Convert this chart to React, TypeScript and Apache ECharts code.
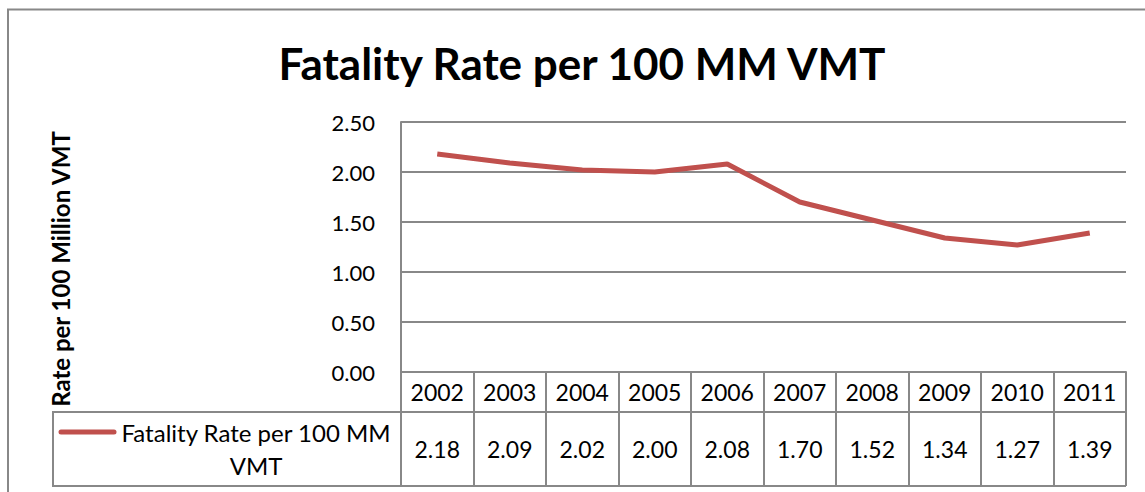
import React, { useEffect, useRef } from "react";
import * as echarts from "echarts";

const chartTitle = "Fatality Rate per 100 MM VMT";
const yAxisTitle = "Rate per 100 Million VMT";
const seriesName = "Fatality Rate per 100 MM VMT";
const years = ["2002", "2003", "2004", "2005", "2006", "2007", "2008", "2009", "2010", "2011"];
const rates = [2.18, 2.09, 2.02, 2.0, 2.08, 1.7, 1.52, 1.34, 1.27, 1.39];
const yMin = 0;
const yMax = 2.5;
const yStep = 0.5;

const FONT = "Lato, 'Liberation Sans', sans-serif";
const GRAY = "#888888";
const RED = "#C0504D";

const G_LEFT = 401;
const G_TOP = 122;
const G_RIGHT = 1126;
const G_BOTTOM = 372;
const ROW1 = 40;
const ROW2 = 74;
const LEG_LEFT = 53;

export default function App() {
  const ref = useRef<HTMLDivElement>(null);
  useEffect(() => {
    if (!ref.current) return;
    const chart = echarts.init(ref.current, null, { renderer: "svg" });
    const row2Top = G_BOTTOM + ROW1;
    const row2Bottom = row2Top + ROW2;
    chart.setOption({
      animation: false,
      backgroundColor: "#ffffff",
      textStyle: { fontFamily: FONT },
      grid: {
        left: G_LEFT,
        top: G_TOP,
        width: G_RIGHT - G_LEFT,
        height: G_BOTTOM - G_TOP,
        containLabel: false,
      },
      xAxis: [
        {
          type: "category",
          data: years,
          boundaryGap: true,
          position: "bottom",
          axisLine: { show: true, lineStyle: { color: GRAY, width: 2 } },
          axisTick: { show: true, length: ROW1, inside: false, lineStyle: { color: GRAY, width: 2 } },
          axisLabel: { margin: 8, fontSize: 23, color: "#000", fontFamily: FONT },
          splitLine: { show: false },
        },
        {
          type: "category",
          data: years,
          boundaryGap: true,
          position: "bottom",
          offset: ROW1,
          axisLine: { show: true, lineStyle: { color: GRAY, width: 2 } },
          axisTick: { show: true, length: ROW2, inside: false, lineStyle: { color: GRAY, width: 2 } },
          axisLabel: {
            margin: 25,
            fontSize: 23,
            color: "#000",
            fontFamily: FONT,
            formatter: (_v: string, i: number) => rates[i].toFixed(2),
          },
          splitLine: { show: false },
        },
      ],
      yAxis: {
        type: "value",
        min: yMin,
        max: yMax,
        interval: yStep,
        axisLine: { show: true, lineStyle: { color: GRAY, width: 2 } },
        axisTick: { show: false },
        splitLine: { show: true, lineStyle: { color: GRAY, width: 2 } },
        axisLabel: {
          margin: 26,
          fontSize: 22,
          color: "#000",
          fontFamily: FONT,
          formatter: (v: number) => v.toFixed(2),
        },
      },
      series: [
        {
          name: seriesName,
          type: "line",
          xAxisIndex: 0,
          data: rates,
          symbol: "none",
          lineStyle: { color: RED, width: 5 },
          itemStyle: { color: RED },
        },
      ],
      graphic: [
        {
          type: "rect",
          shape: { x: 8, y: 9.5, width: 1300, height: 700 },
          style: { fill: "none", stroke: GRAY, lineWidth: 2 },
          silent: true,
        },
        {
          type: "text",
          x: 582,
          y: 63,
          style: {
            text: chartTitle,
            font: `bold 44px ${FONT}`,
            fill: "#000",
            textAlign: "center",
            textVerticalAlign: "middle",
          },
        },
        {
          type: "text",
          x: 60,
          y: 269,
          rotation: Math.PI / 2,
          style: {
            text: yAxisTitle,
            font: `bold 24px ${FONT}`,
            fill: "#000",
            textAlign: "center",
            textVerticalAlign: "middle",
          },
        },
        {
          type: "polyline",
          shape: {
            points: [
              [G_LEFT, row2Top],
              [LEG_LEFT, row2Top],
              [LEG_LEFT, row2Bottom],
              [G_RIGHT, row2Bottom],
            ],
          },
          style: { fill: "none", stroke: GRAY, lineWidth: 2 },
          silent: true,
        },
        {
          type: "line",
          shape: { x1: 61, y1: 432, x2: 114, y2: 432 },
          style: { stroke: RED, lineWidth: 5, lineCap: "round" },
        },
        {
          type: "text",
          x: 256,
          y: 449,
          style: {
            text: seriesName.replace(" VMT", "\nVMT"),
            font: `24px ${FONT}`,
            lineHeight: 33,
            fill: "#000",
            textAlign: "center",
            textVerticalAlign: "middle",
          },
        },
      ],
    });
    return () => chart.dispose();
  }, []);
  return (
    <div
      ref={ref}
      style={{ position: "absolute", left: 0, top: 0, width: 1145, height: 492 }}
    />
  );
}
